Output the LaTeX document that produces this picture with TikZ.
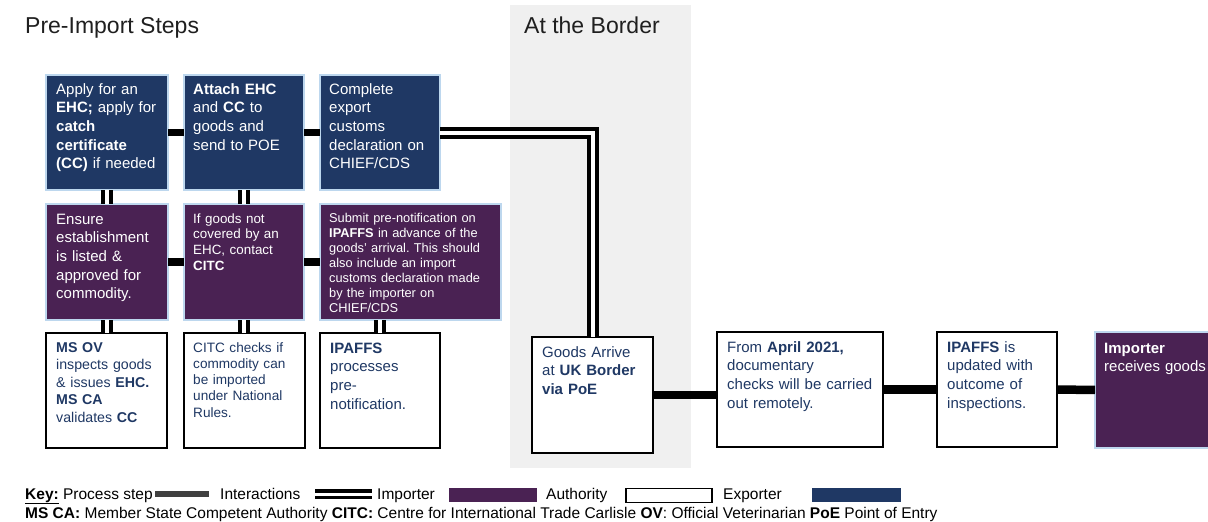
\documentclass[tikz,border=0pt]{standalone}
\usepackage{fontspec}
\setmainfont{Liberation Sans}
\usetikzlibrary{calc}
\definecolor{navy}{HTML}{1F3864}
\definecolor{plum}{HTML}{4A2253}
\definecolor{lblue}{HTML}{BDD7EE}
\definecolor{bandgray}{HTML}{F0F0F0}
\definecolor{keygray}{HTML}{404040}
\newcommand{\fsA}{\fontsize{15}{18.7}\selectfont}
\newcommand{\fsB}{\fontsize{13.4}{15.7}\selectfont}
\newcommand{\fsC}{\fontsize{12.8}{15}\selectfont}
\newcommand{\fsD}{\fontsize{14.2}{17.5}\selectfont}
\newcommand{\fsE}{\fontsize{13.6}{16.3}\selectfont}
\newcommand{\fsL}{\fontsize{15.5}{18}\selectfont}
\frenchspacing
\begin{document}
\begin{tikzpicture}[x=1pt,y=-1pt,
  box/.style={rectangle, inner sep=0pt, outer sep=0pt},
  navybox/.style={box, fill=navy, draw=lblue, line width=2pt},
  plumbox/.style={box, fill=plum, draw=lblue, line width=2pt},
  whitebox/.style={box, fill=white, draw=black, line width=2.2pt},
  txt/.style={anchor=base west, inner sep=0pt, align=left, text width=#1},
  txt/.default=170pt,
  wtxt/.style={txt, text=white},
  btxt/.style={txt, text=navy},
  proc/.style={draw=black, line width=7.5pt},
  procB/.style={draw=black, line width=8.5pt},
  inter/.style={draw=black, double=white, double distance=4pt, line width=4pt},
  title/.style={anchor=base west, inner sep=0pt, font=\fontsize{23}{27}\selectfont, text=black!88},
  legtxt/.style={anchor=base west, inner sep=0pt, font=\fsL},
]
\useasboundingbox (0,0) rectangle (1208,522);
\clip (0,0) rectangle (1208,522);
\fill[white] (0,0) rectangle (1208,522);

% border band
\node[box, fill=bandgray, minimum width=181pt, minimum height=463pt] (band) at (600.5,236.5) {};

% titles
\node[title] (t1) at (25,34) {Pre-Import Steps};
\node[title] (t2) at (524,34) {At the Border};

% row 1 (exporter)
\node[navybox, minimum width=122pt, minimum height=115pt] (A1) at (107,132.5) {};
\node[navybox, minimum width=120pt, minimum height=115pt] (A2) at (244,132.5) {};
\node[navybox, minimum width=120pt, minimum height=115pt] (A3) at (380,132.5) {};
% row 2 (importer)
\node[plumbox, minimum width=122pt, minimum height=116pt] (B1) at (107,262) {};
\node[plumbox, minimum width=120pt, minimum height=116pt] (B2) at (244,262) {};
\node[plumbox, minimum width=181pt, minimum height=116pt] (B3) at (410.5,262) {};
% row 3 (authority)
\node[whitebox, minimum width=121pt, minimum height=115pt] (C1) at (106.5,390.5) {};
\node[whitebox, minimum width=121pt, minimum height=115pt] (C2) at (244.5,390.5) {};
\node[whitebox, minimum width=120pt, minimum height=115pt] (C3) at (380,390.5) {};
% border row
\node[whitebox, minimum width=121pt, minimum height=116pt] (Goods) at (592.5,395) {};
\node[whitebox, minimum width=166pt, minimum height=115pt] (April) at (800,389.5) {};
\node[whitebox, minimum width=120pt, minimum height=115pt] (IPA) at (997,389.5) {};
\node[plumbox, minimum width=125pt, minimum height=116pt] (Imp) at (1157.5,390) {};

% texts
\node[wtxt, font=\fsA] (A1t) at (56,94) {Apply for an\\\textbf{EHC;} apply for\\\textbf{catch}\\\textbf{certificate}\\\textbf{(CC)} if needed};
\node[wtxt, font=\fsA] (A2t) at (193,94) {\textbf{Attach EHC}\\and \textbf{CC} to\\goods and\\send to POE};
\node[wtxt, font=\fsA] (A3t) at (329,94) {Complete\\export\\customs\\declaration on\\CHIEF/CDS};
\node[wtxt, font=\fsA] (B1t) at (56,224) {Ensure\\establishment\\is listed \&\\approved for\\commodity.};
\node[wtxt, font=\fsB] (B2t) at (193,223) {If goods not\\covered by an\\EHC, contact\\\textbf{CITC}};
\node[wtxt, font=\fsC] (B3t) at (329,222) {Submit pre-notification on\\\textbf{IPAFFS} in advance of the\\goods’ arrival. This should\\also include an import\\customs declaration made\\by the importer on\\CHIEF/CDS};
\node[btxt, font=\fsD] (C1t) at (56,352) {\textbf{MS OV}\\inspects goods\\\& issues \textbf{EHC.}\\\textbf{MS CA}\\validates \textbf{CC}};
\node[btxt, font=\fsE] (C2t) at (193,352) {CITC checks if\\commodity can\\be imported\\under National\\Rules.};
\node[btxt, font=\fsA] (C3t) at (330,353) {\textbf{IPAFFS}\\processes\\pre-\\notification.};
\node[btxt, font=\fsA] (Goodst) at (542,357) {Goods Arrive\\at \textbf{UK Border}\\\textbf{via PoE}};
\node[btxt, font=\fsA] (Aprilt) at (727,352) {From \textbf{April 2021,}\\documentary\\checks will be carried\\out remotely.};
\node[btxt, font=\fsA] (IPAt) at (947,352) {\textbf{IPAFFS} is\\updated with\\outcome of\\inspections.};
\node[wtxt, font=\fsA] (Impt) at (1104,353) {\textbf{Importer}\\receives goods};

% process-step connectors
\draw[proc] (A1) -- (A2);
\draw[proc] (A2) -- (A3);
\draw[proc] (B1) -- (B2);
\draw[proc] (B2) -- (B3);
\draw[procB] (Goods.east) -- (Goods.east -| April.west);
\draw[procB] (April) -- (IPA);
\draw[procB] (IPA) -- (Imp);

% interaction connectors
\draw[inter] (A1) -- (B1);
\draw[inter] (A2) -- (B2);
\draw[inter] (B1.south) -- (B1.south |- C1.north);
\draw[inter] (B2.south) -- (B2.south |- C2.north);
\draw[inter] (C3.north |- B3.south) -- (C3.north);
\draw[inter] (A3.east) -| (Goods.north);

% key
\node[legtxt] (key) at (25,499) {\underline{\textbf{Key:}} Process step};
\node[box, fill=keygray, minimum width=54pt, minimum height=6pt] (kproc) at (182,494) {};
\node[legtxt] (kinterT) at (220,499) {Interactions};
\coordinate (ki1) at (315,494);
\coordinate (ki2) at (372,494);
\draw[draw=black, double=white, double distance=3pt, line width=3.5pt] (ki1) -- (ki2);
\node[legtxt] (kimpT) at (377,499) {Importer};
\node[box, fill=plum, minimum width=88pt, minimum height=14pt] (kimp) at (493,495) {};
\node[legtxt] (kauthT) at (546,499) {Authority};
\node[box, fill=white, draw=black, line width=1.8pt, minimum width=86pt, minimum height=14pt] (kauth) at (669,495.5) {};
\node[legtxt] (kexpT) at (723,499) {Exporter};
\node[box, fill=navy, minimum width=89pt, minimum height=14pt] (kexp) at (856.5,495) {};
\node[legtxt] (abbr) at (25,518) {\textbf{MS CA:} Member State Competent Authority \textbf{CITC:} Centre for International Trade Carlisle \textbf{OV}: Official Veterinarian \textbf{PoE} Point of Entry};
\end{tikzpicture}
\end{document}
